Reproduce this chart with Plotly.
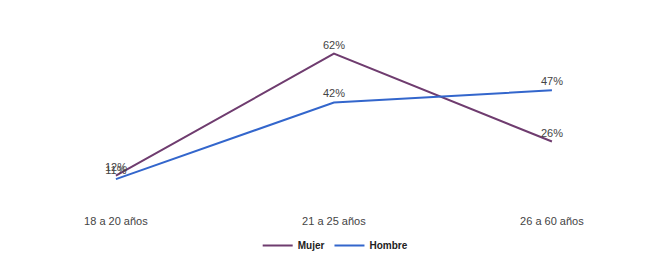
import plotly.graph_objects as go

categories = ["18 a 20 años", "21 a 25 años", "26 a 60 años"]
mujer = [12, 62, 26]
hombre = [10.6, 42, 47]
mujer_labels = ["12%", "62%", "26%"]
hombre_labels = ["11%", "42%", "47%"]

xi = list(range(len(categories)))
label_font = dict(color="#444444", size=11, family="Liberation Sans, Arial")

fig = go.Figure()
fig.add_trace(go.Scatter(
    x=xi, y=mujer, mode="lines", name="<b>Mujer</b>",
    line=dict(color="#6f3c6f", width=2),
))
fig.add_trace(go.Scatter(
    x=xi, y=hombre, mode="lines", name="<b>Hombre</b>",
    line=dict(color="#3366cc", width=2),
))
fig.add_trace(go.Scatter(
    x=xi, y=mujer, mode="markers+text", showlegend=False,
    marker=dict(size=2, opacity=0), hoverinfo="skip",
    text=mujer_labels, textposition="top center", textfont=label_font,
))
fig.add_trace(go.Scatter(
    x=xi, y=hombre, mode="markers+text", showlegend=False,
    marker=dict(size=2, opacity=0), hoverinfo="skip",
    text=hombre_labels, textposition="top center", textfont=label_font,
))

fig.update_layout(
    width=661, height=254,
    autosize=False,
    margin=dict(l=0, r=0, t=12, b=57, autoexpand=False),
    paper_bgcolor="white", plot_bgcolor="white",
    font=dict(family="Liberation Sans, Arial", size=11, color="#444444"),
    xaxis=dict(
        range=[-0.495, 2.537], tickvals=xi, ticktext=categories,
        showgrid=False, zeroline=False, showline=False, ticks="",
        ticklabelstandoff=8, tickfont=dict(size=11, color="#444444"),
        automargin=False,
    ),
    yaxis=dict(range=[0, 75.8], visible=False, showgrid=False, zeroline=False,
               automargin=False),
    showlegend=True,
    legend=dict(
        orientation="h", x=0.495, xanchor="center", xref="container",
        y=0.065, yanchor="middle", yref="container",
        font=dict(size=10, color="#222222", family="Liberation Sans, Arial"),
        itemwidth=30,
    ),
)

fig.write_html("out.html")
